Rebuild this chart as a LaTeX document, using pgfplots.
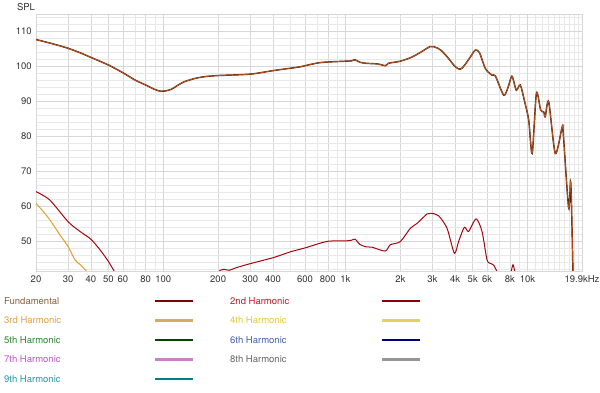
\documentclass[border=0pt]{standalone}
\usepackage{fontspec}
\setmainfont{TeX Gyre Heros}
\usepackage{pgfplots}
\pgfplotsset{compat=1.18}
\definecolor{fundA}{RGB}{90,30,5}
\definecolor{fundB}{RGB}{195,100,40}
\definecolor{harm2}{RGB}{165,5,15}
\definecolor{harm3}{RGB}{225,160,40}
\definecolor{gridmin}{RGB}{232,232,232}
\definecolor{gridmaj}{RGB}{215,215,215}
\definecolor{griddark}{RGB}{170,170,170}
\definecolor{labgray}{RGB}{50,50,50}
% legend text colours
\definecolor{tF}{RGB}{140,92,60}
\definecolor{t2}{RGB}{200,20,40}
\definecolor{t3}{RGB}{225,160,60}
\definecolor{t4}{RGB}{228,198,60}
\definecolor{t5}{RGB}{45,130,45}
\definecolor{t6}{RGB}{65,95,165}
\definecolor{t7}{RGB}{190,85,200}
\definecolor{t8}{RGB}{100,100,100}
\definecolor{t9}{RGB}{40,150,160}
% legend line colours
\definecolor{lF}{RGB}{128,0,0}
\definecolor{l2}{RGB}{140,0,10}
\definecolor{l3}{RGB}{215,170,100}
\definecolor{l4}{RGB}{230,208,100}
\definecolor{l5}{RGB}{0,70,0}
\definecolor{l6}{RGB}{0,0,120}
\definecolor{l7}{RGB}{200,130,200}
\definecolor{l8}{RGB}{150,150,150}
\definecolor{l9}{RGB}{0,128,128}
\begin{document}
\fontsize{9.5}{11}\selectfont
\begin{tikzpicture}
\begin{axis}[
  scale only axis,
  width=546pt, height=257pt,
  xmode=log,
  xmin=20, xmax=19900,
  ymin=41.4, ymax=114.9,
  axis line style={draw=gridmaj},
  tick style={draw=none},
  xtick={20,30,40,50,60,80,100,200,300,400,600,800,1000,2000,3000,4000,5000,6000,8000,10000,19900},
  xticklabels={20,30,40,50,60,80,100,200,300,400,600,800,1k,2k,3k,4k,5k,6k,8k,10k,19.9kHz},
  minor xtick={70,90,500,700,900,7000,9000,11000,12000,13000,14000,15000,16000,17000,18000,19000},
  extra x ticks={100,1000,10000},
  extra x tick labels={},
  extra x tick style={grid style={draw=griddark, line width=0.6pt}},
  ytick={50,60,70,80,90,100,110},
  minor ytick={42,44,46,48,52,54,56,58,62,64,66,68,72,74,76,78,82,84,86,88,92,94,96,98,102,104,106,108,112,114},
  grid=both,
  major grid style={draw=gridmaj, line width=0.6pt},
  minor grid style={draw=gridmin, line width=0.6pt},
  ticklabel style={font=\fontsize{9.5}{11}\selectfont, text=labgray},
  /pgf/number format/assume math mode=true,
  xticklabel style={yshift=-1pt},
  yticklabel style={xshift=-1pt},
  clip=true,
]
% Fundamental (two layers)
\pgfplotsforeachungrouped \lw/\col in {1.45pt/fundA, 0.55pt/fundB}{
\edef\temp{\noexpand\addplot[color=\col, line width=\lw, smooth, tension=0.45, forget plot]}
\temp coordinates {
(20,107.6)(25,106.3)(30,105.1)(35,103.8)(40,102.5)(50,100.3)(60,98.1)(70,96.0)(80,94.6)(90,93.3)(97,92.8)(105,93.0)(112,93.5)(120,94.5)(130,95.5)(150,96.5)(170,97.0)(200,97.3)(300,97.7)(400,98.7)(500,99.4)(564,99.8)(727,101.0)(1000,101.4)(1080,101.5)(1130,101.8)(1200,101.1)(1300,100.8)(1514,100.6)(1654,100.1)(1720,100.8)(1800,101.0)(2000,101.4)(2300,102.5)(2577,103.9)(2924,105.6)(3150,105.3)(3350,104.5)(3612,102.7)(4013,99.8)(4272,99.1)(4500,100.2)(4850,102.6)(5168,104.6)(5450,103.8)(5862,99.3)(6378,97.4)(6652,97.2)(7391,91.7)(7800,93.8)(8205,97.1)(8670,93.1)(9120,94.6)(9640,89.8)(10140,84.6)(10600,75)(11180,92.2)(11800,87.4)(12260,86.9)(12500,85.5)(13060,89.8)(14200,75)(15500,82.7)(15700,80.8)(16800,59.4)(17200,67)(17400,61.7)(17800,38)
};
}
% 2nd harmonic
\addplot[color=harm2, line width=1pt, smooth, tension=0.45, forget plot] coordinates {
(20,64.1)(23.8,61.7)(30,55.5)(34.9,52.7)(40,50.5)(45,47.4)(50,44.1)(54,41.2)(58,39.0)
};
\addplot[color=harm2, line width=1pt, smooth, tension=0.45, forget plot] coordinates {
(195,40.0)(205,41.6)(215,41.9)(230,41.6)(250,42.3)(300,43.5)(400,45.2)(500,46.9)(600,48.0)(700,49.1)(800,49.9)(900,50.0)(1000,50.0)(1080,50.2)(1130,50.5)(1200,49.0)(1300,48.3)(1400,48.2)(1654,47.1)(1762,48.9)(2000,49.8)(2270,53.6)(2470,55.0)(2804,57.7)(2950,57.9)(3246,57.2)(3612,53.6)(3963,46.5)(4180,49.8)(4494,53.9)(4742,52.7)(5212,56.3)(5622,52.7)(5988,44.6)(6300,43.5)(6513,43.1)(6796,41.2)(7000,39.5)
};
\addplot[color=harm2, line width=1pt, smooth, tension=0.45, forget plot] coordinates {
(7950,39.5)(8150,41.6)(8318,43.2)(8480,41.6)(8650,39.5)
};
% 3rd harmonic
\addplot[color=harm3, line width=1pt, smooth, tension=0.4, forget plot] coordinates {
(20,60.8)(22,58.3)(24,55.8)(27,51.8)(30,48.4)(32.7,44.6)(35,43.2)(38.2,41.2)(40,40.2)
};
\end{axis}
% SPL label
\node[text=labgray] at (-10pt,264pt) {SPL};
% legend
\begin{scope}[every node/.style={anchor=west, inner sep=0pt}]
\node[text=tF] at (-32pt,-30pt) {Fundamental};
\draw[lF, line width=1.1pt] (119pt,-30pt) -- (157pt,-30pt);
\node[text=t2] at (194pt,-30pt) {2nd Harmonic};
\draw[l2, line width=1.1pt] (346pt,-30pt) -- (384pt,-30pt);
\node[text=t3] at (-32pt,-49.5pt) {3rd Harmonic};
\draw[l3, line width=2.2pt] (119pt,-49.5pt) -- (157pt,-49.5pt);
\node[text=t4] at (194pt,-49.5pt) {4th Harmonic};
\draw[l4, line width=2.2pt] (346pt,-49.5pt) -- (384pt,-49.5pt);
\node[text=t5] at (-32pt,-69pt) {5th Harmonic};
\draw[l5, line width=1.1pt] (119pt,-69pt) -- (157pt,-69pt);
\node[text=t6] at (194pt,-69pt) {6th Harmonic};
\draw[l6, line width=1.1pt] (346pt,-69pt) -- (384pt,-69pt);
\node[text=t7] at (-32pt,-88.5pt) {7th Harmonic};
\draw[l7, line width=2.2pt] (119pt,-88.5pt) -- (157pt,-88.5pt);
\node[text=t8] at (194pt,-88.5pt) {8th Harmonic};
\draw[l8, line width=2.2pt] (346pt,-88.5pt) -- (384pt,-88.5pt);
\node[text=t9] at (-32pt,-108pt) {9th Harmonic};
\draw[l9, line width=1.1pt] (119pt,-108pt) -- (157pt,-108pt);
\end{scope}
\pgfresetboundingbox
\path[use as bounding box] (-36pt,-122pt) rectangle (564pt,271pt);
\end{tikzpicture}
\end{document}
